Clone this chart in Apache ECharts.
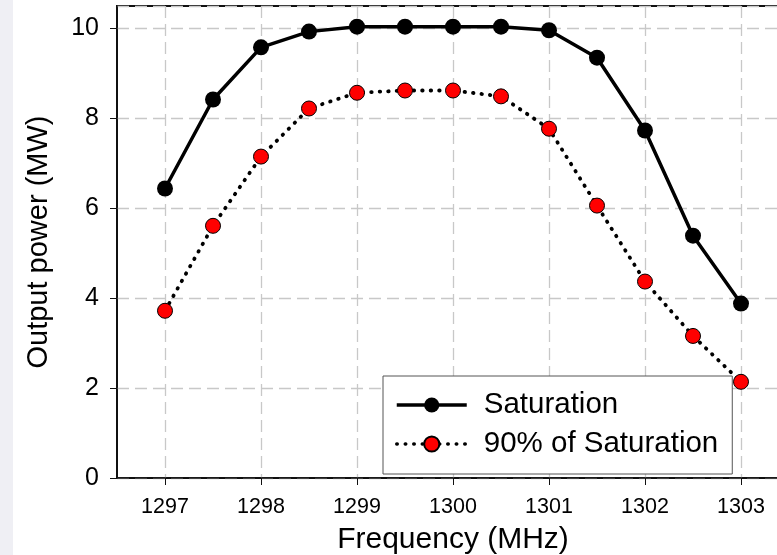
<!DOCTYPE html>
<html>
<head>
<meta charset="utf-8">
<script src="https://cdn.jsdelivr.net/npm/echarts@6/dist/echarts.min.js"></script>
<style>
  html, body { margin: 0; padding: 0; background: #fff; }
  #chart { width: 777px; height: 555px; }
</style>
</head>
<body>
<div id="chart"></div>
<script>
// frequency points (MHz)
const freq = [1297, 1297.5, 1298, 1298.5, 1299, 1299.5, 1300, 1300.5, 1301, 1301.5, 1302, 1302.5, 1303];
// output power (MW)
const saturation = [6.44, 8.42, 9.58, 9.93, 10.04, 10.04, 10.04, 10.04, 9.96, 9.35, 7.73, 5.39, 3.88];
const sat90 = [3.72, 5.61, 7.15, 8.22, 8.57, 8.62, 8.62, 8.49, 7.77, 6.06, 4.37, 3.16, 2.14];
const xTicks = [1297, 1298, 1299, 1300, 1301, 1302, 1303];

const chart = echarts.init(document.getElementById('chart'));
const font = 'Arial, "Liberation Sans", sans-serif';
const gridDash = { color: '#c8c8c8', type: [12, 6], width: 1.3 };

const option = {
  animation: false,
  graphic: [{
    type: 'rect',
    shape: { x: 0, y: 0, width: 13, height: 555 },
    style: { fill: '#efeff4' },
    silent: true
  }],
  grid: {
    left: 117, top: 6, width: 672, bottom: 77,
    outerBoundsMode: 'none',
    containLabel: false,
    show: true, borderColor: '#111', borderWidth: 2, backgroundColor: 'transparent'
  },
  legend: {
    orient: 'vertical',
    left: 383, top: 376,
    padding: [14, 14, 15, 12],
    itemGap: 9,
    itemWidth: 70, itemHeight: 19,
    backgroundColor: '#fff',
    borderColor: '#555', borderWidth: 1,
    textStyle: { fontFamily: font, fontSize: 29.5, color: '#000', padding: [0, 0, 0, 12] },
    data: [
      { name: 'Saturation', lineStyle: { width: 3.5 } },
      { name: '90% of Saturation', lineStyle: { width: 3.5 } }
    ]
  },
  xAxis: {
    type: 'value',
    min: 1296.5, max: 1303.5,
    name: 'Frequency (MHz)',
    nameLocation: 'middle',
    nameGap: 47,
    nameTextStyle: { fontFamily: font, fontSize: 30, color: '#000' },
    axisLine: { lineStyle: { color: '#111', width: 1.5 } },
    axisTick: { show: true, length: 7, customValues: xTicks, lineStyle: { color: '#111' } },
    axisLabel: {
      customValues: xTicks, formatter: v => String(v),
      fontFamily: font, fontSize: 21.5, color: '#000', margin: 18
    },
    splitLine: { show: true, lineStyle: gridDash }
  },
  yAxis: {
    type: 'value',
    min: 0, max: 10.5, interval: 2,
    name: 'Output power (MW)',
    nameLocation: 'middle',
    nameGap: 64,
    nameTextStyle: { fontFamily: font, fontSize: 29, color: '#000' },
    axisLine: { show: true, lineStyle: { color: '#111', width: 1.5 } },
    axisTick: { show: true, length: 7, lineStyle: { color: '#111' } },
    axisLabel: { fontFamily: font, fontSize: 25, color: '#000', margin: 18 },
    splitLine: { show: true, lineStyle: gridDash }
  },
  series: [
    {
      name: 'Saturation',
      type: 'line',
      data: freq.map((f, i) => [f, saturation[i]]),
      symbol: 'circle', symbolSize: 16,
      itemStyle: { color: '#000' },
      lineStyle: { color: '#000', width: 3.5 },
      z: 3
    },
    {
      name: '90% of Saturation',
      type: 'line',
      data: freq.map((f, i) => [f, sat90[i]]),
      symbol: 'circle', symbolSize: 15,
      itemStyle: { color: '#ff0000', borderColor: '#000', borderWidth: 1 },
      lineStyle: { color: '#000', width: 3.8, type: [0.5, 8], cap: 'round' },
      z: 3
    }
  ]
};

chart.setOption(option);
</script>
</body>
</html>
